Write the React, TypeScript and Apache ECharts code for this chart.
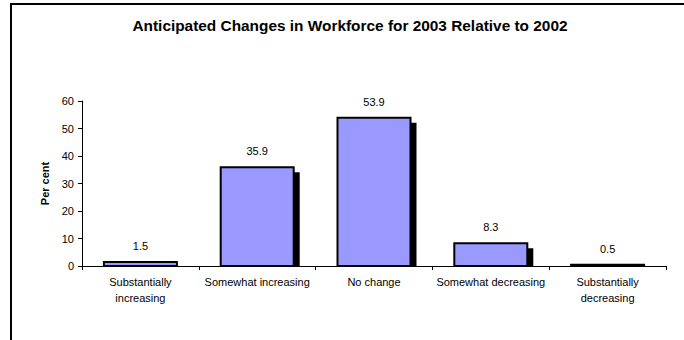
import React, { useEffect, useRef } from "react";
import * as echarts from "echarts";

const categories = [
  "Substantially\nincreasing",
  "Somewhat increasing",
  "No change",
  "Somewhat decreasing",
  "Substantially\ndecreasing",
];
const values = [1.5, 35.9, 53.9, 8.3, 0.5];
const titleText = "Anticipated Changes in Workforce for 2003 Relative to 2002";
const yAxisName = "Per cent";

const FONT = "'Liberation Sans', Arial, sans-serif";

export default function App() {
  const ref = useRef<HTMLDivElement>(null);
  useEffect(() => {
    document.body.style.margin = "0";
    if (!ref.current) return;
    const chart = echarts.init(ref.current, null, { renderer: "svg" });
    chart.setOption({
      animation: false,
      backgroundColor: "#fff",
      grid: { left: 82, right: 18, top: 101, bottom: 74 },
      graphic: [
        {
          type: "rect",
          shape: { x: 11, y: 4, width: 720, height: 400 },
          style: { fill: "none", stroke: "#000", lineWidth: 2 },
          silent: true,
        },
        {
          type: "text",
          x: 350,
          y: 25,
          style: {
            text: titleText,
            textAlign: "center",
            textVerticalAlign: "middle",
            font: `bold 15.4px ${FONT}`,
            fill: "#000",
          },
        },
      ],
      xAxis: {
        type: "category",
        data: categories,
        axisLine: { lineStyle: { color: "#000", width: 1 } },
        axisTick: { show: true, length: 4, lineStyle: { color: "#000" } },
        axisLabel: {
          color: "#000",
          fontSize: 11,
          fontFamily: FONT,
          lineHeight: 16,
          margin: 8,
          interval: 0,
        },
      },
      yAxis: {
        type: "value",
        min: 0,
        max: 60,
        interval: 10,
        name: yAxisName,
        nameLocation: "middle",
        nameGap: 22,
        nameRotate: 90,
        nameTextStyle: { color: "#000", fontSize: 11, fontWeight: "bold", fontFamily: FONT },
        axisLine: { show: true, lineStyle: { color: "#000", width: 1 } },
        axisTick: { show: true, length: 4, lineStyle: { color: "#000" } },
        axisLabel: { color: "#000", fontSize: 11, fontFamily: FONT, margin: 8 },
        splitLine: { show: false },
      },
      series: [
        {
          type: "custom",
          data: values.map((v, i) => [i, v]),
          renderItem: (params: any, api: any) => {
            const v = api.value(1);
            const top = api.coord([api.value(0), v]);
            const base = api.coord([api.value(0), 0]);
            const band = api.size([1, 0])[0];
            const bw = band * 0.625;
            const x = top[0] - bw / 2;
            const h = base[1] - top[1];
            return {
              type: "group",
              children: [
                {
                  type: "rect",
                  shape: { x: x + 6, y: top[1] + 5, width: bw, height: Math.max(0, h - 5) },
                  style: { fill: "#000" },
                },
                {
                  type: "rect",
                  shape: { x, y: top[1], width: bw, height: h },
                  style: { fill: "#9999FF", stroke: "#000", lineWidth: 2 },
                },
                {
                  type: "text",
                  x: top[0],
                  y: top[1] - 16,
                  style: {
                    text: String(v),
                    textAlign: "center",
                    textVerticalAlign: "middle",
                    font: `11px ${FONT}`,
                    fill: "#000",
                  },
                },
              ],
            };
          },
        },
      ],
    });
    return () => chart.dispose();
  }, []);
  return <div ref={ref} style={{ width: 684, height: 340 }} />;
}
